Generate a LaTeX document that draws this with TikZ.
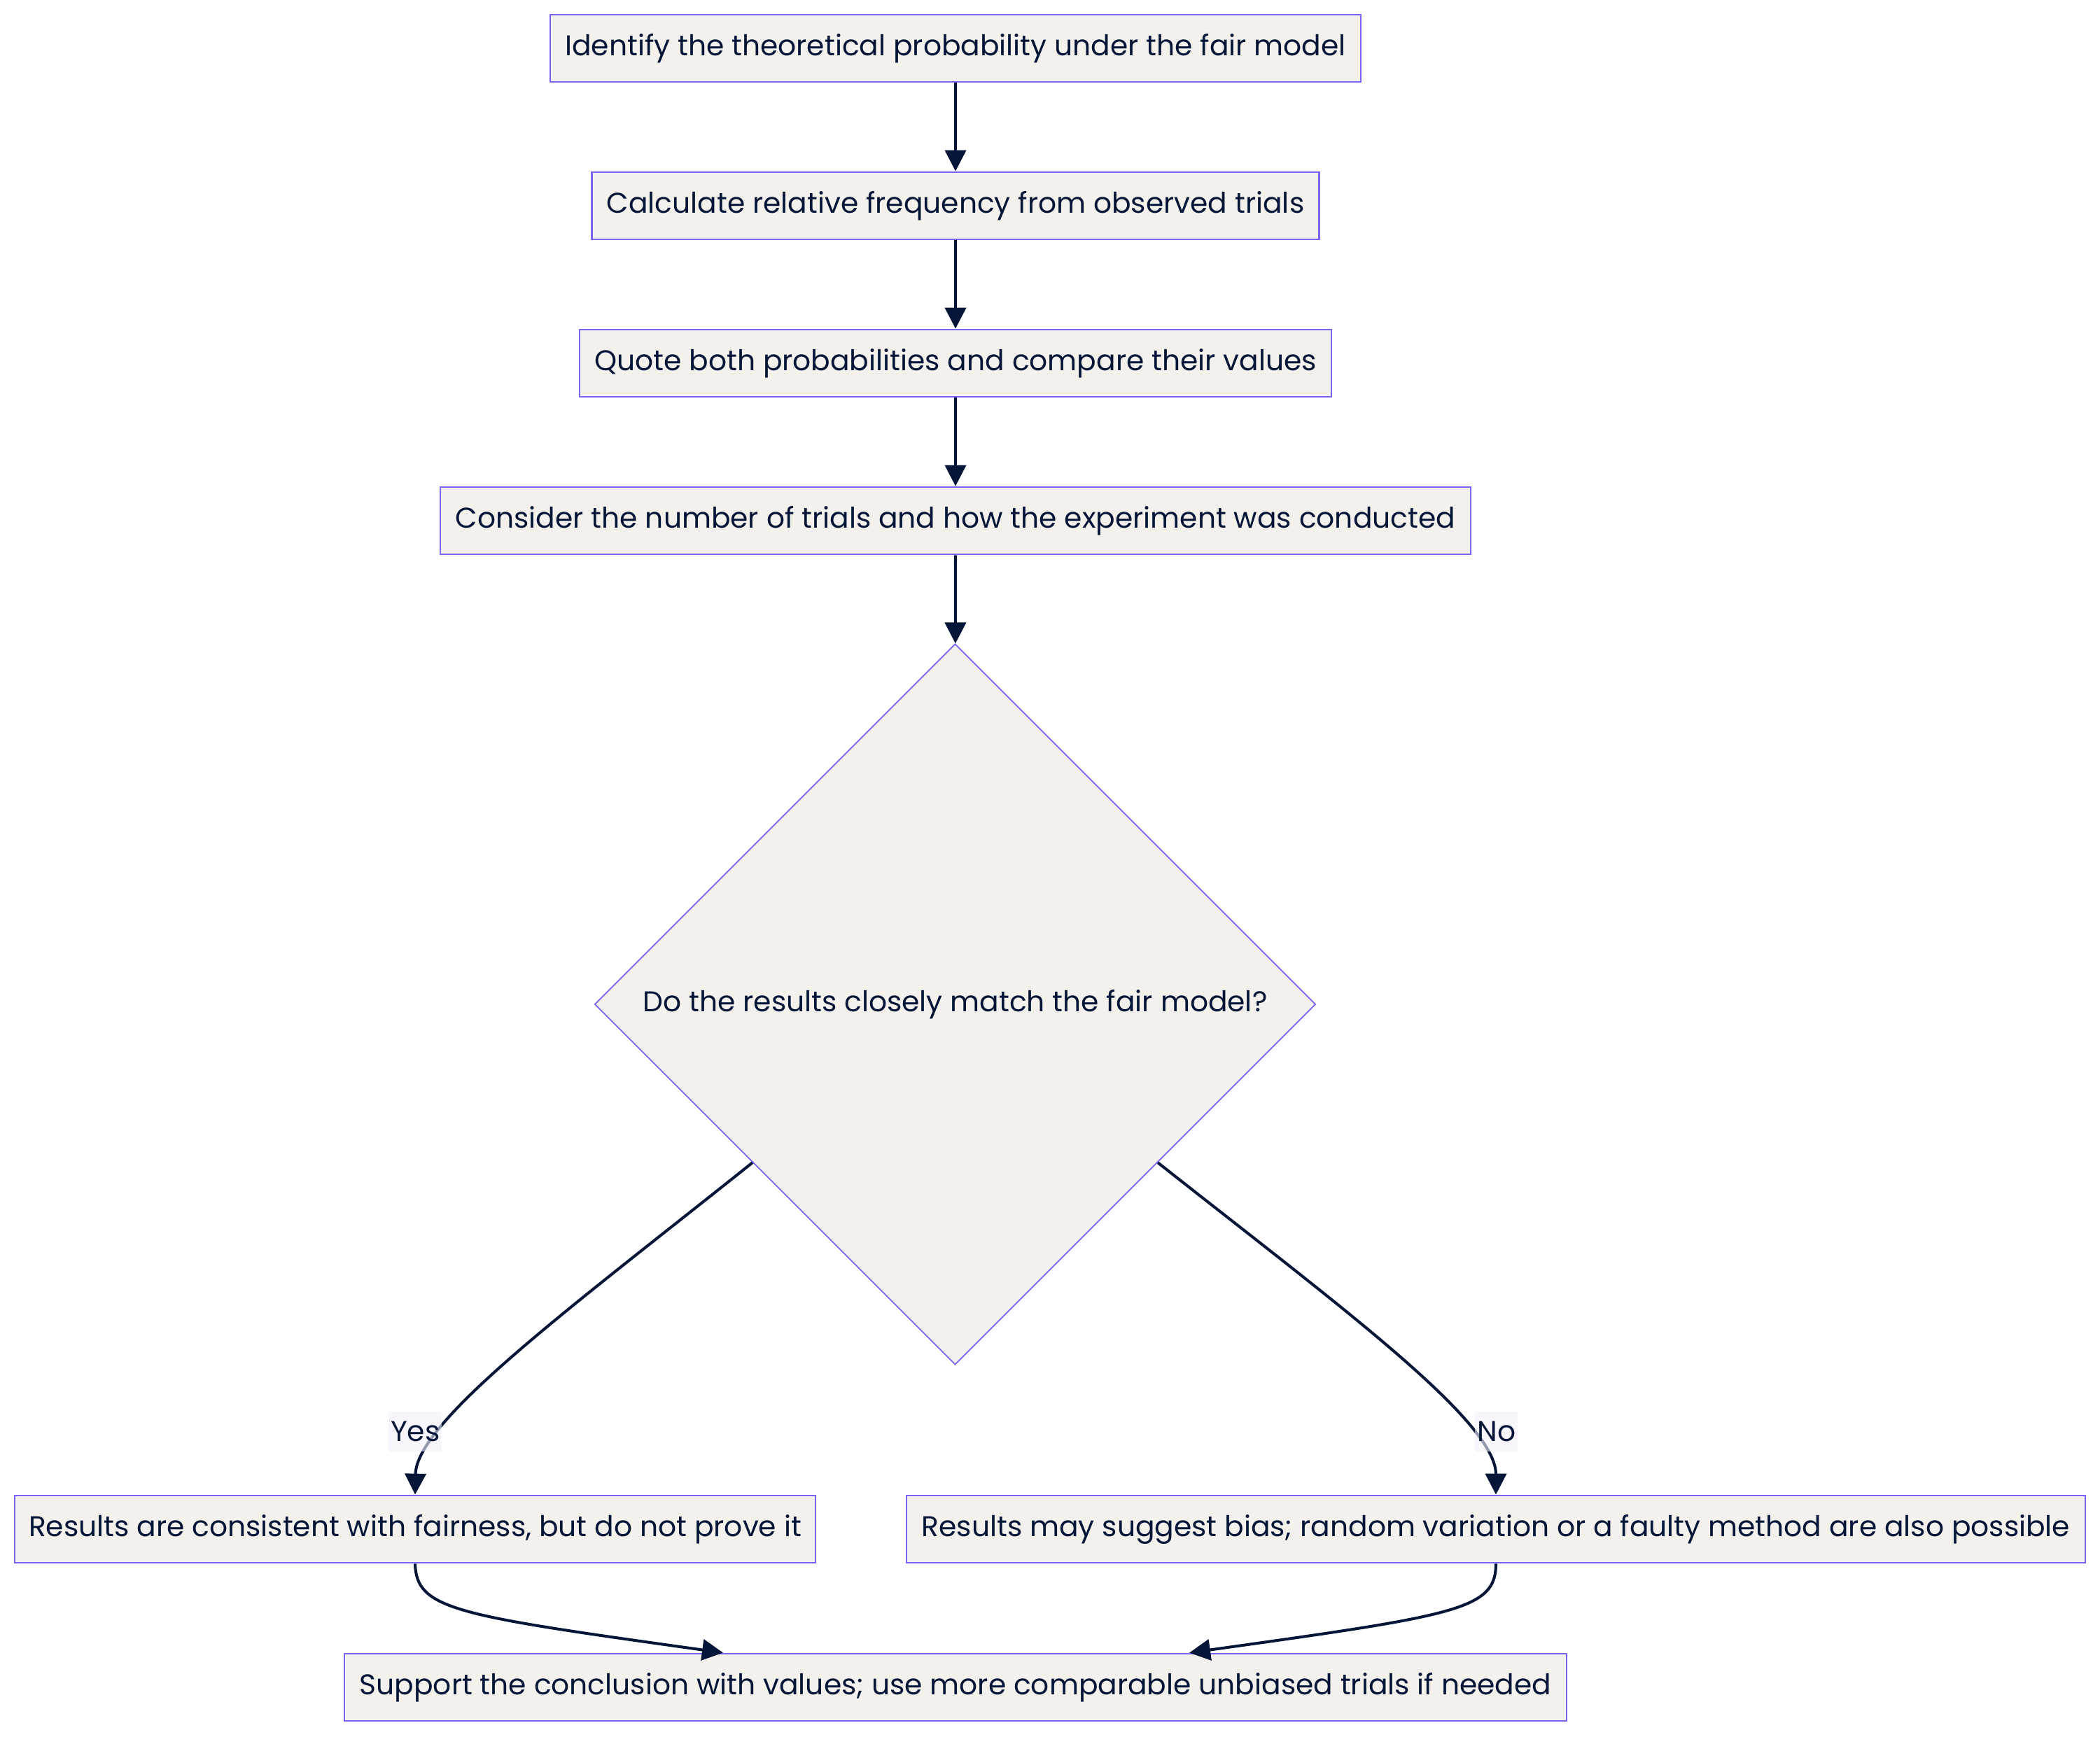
\documentclass[tikz,border=0pt]{standalone}
\usepackage{fontspec}
\setmainfont{Poppins}
\usetikzlibrary{shapes.geometric,arrows.meta}
\definecolor{boxfill}{HTML}{F4F1EC}
\definecolor{boxline}{HTML}{7A64F5}
\definecolor{ink}{HTML}{031637}
\definecolor{lblfill}{HTML}{F3F0FA}
\begin{document}
\begin{tikzpicture}[
        box/.style={draw=boxline, fill=boxfill, line width=0.8pt, text=ink,
            minimum height=0.96cm, inner sep=0pt, font=\fontsize{11.6}{14}\selectfont},
        decision/.style={diamond, aspect=1, draw=boxline, fill=boxfill, line width=0.5pt,
            text=ink, minimum width=10.3cm, minimum height=10.3cm, inner sep=0pt,
            font=\fontsize{11.6}{14}\selectfont},
        flow/.style={draw=ink, line width=1.15pt, -{Triangle[length=0.3cm,width=0.3cm]}},
        lbl/.style={fill=lblfill, fill opacity=0.6, text opacity=1, text=ink,
            inner xsep=0.3mm, minimum height=0.57cm, font=\fontsize{11.6}{14}\selectfont}
    ]
        \useasboundingbox (0,0) rectangle (30,-24.81);
        % main column
        \node[box, minimum width=11.58cm] (ident) at (13.65,-0.69)
            {Identify the theoretical probability under the fair model};
        \node[box, minimum width=10.39cm] (calc) at (13.65,-2.94)
            {Calculate relative frequency from observed trials};
        \node[box, minimum width=10.74cm] (quote) at (13.65,-5.19)
            {Quote both probabilities and compare their values};
        \node[box, minimum width=14.72cm] (consider) at (13.65,-7.44)
            {Consider the number of trials and how the experiment was conducted};
        \node[decision] (match) at (13.645,-14.35)
            {Do the results closely match the fair model?};
        % the two outcomes
        \node[box, minimum width=11.44cm] (yes) at (5.93,-21.85)
            {Results are consistent with fairness, but do not prove it};
        \node[box, minimum width=16.84cm] (no) at (21.37,-21.85)
            {Results may suggest bias; random variation or a faulty method are also possible};
        \node[box, minimum width=17.46cm] (support) at (13.65,-24.11)
            {Support the conclusion with values; use more comparable unbiased trials if needed};
        \foreach \a/\b in {ident/calc, calc/quote, quote/consider, consider/match}
        {
            \draw[flow] (\a) -- (\b);
        }
        \draw[flow] (match.218.7) .. controls (8.20,-18.65) and (5.95,-20.30)
            .. node[lbl, pos=0.75, xshift=-4mm] {Yes} (yes.north);
        \draw[flow] (match.-38.3) .. controls (19.12,-18.65) and (21.37,-20.30)
            .. node[lbl, pos=0.75, xshift=4mm] {No} (no.north);
        \draw[flow] (yes.south) .. controls (5.95,-23.00) and (6.50,-23.08)
            .. ([xshift=-3.32cm]support.north);
        \draw[flow] (no.south) .. controls (21.37,-23.00) and (20.82,-23.08)
            .. ([xshift=3.34cm]support.north);
    \end{tikzpicture}
\end{document}
